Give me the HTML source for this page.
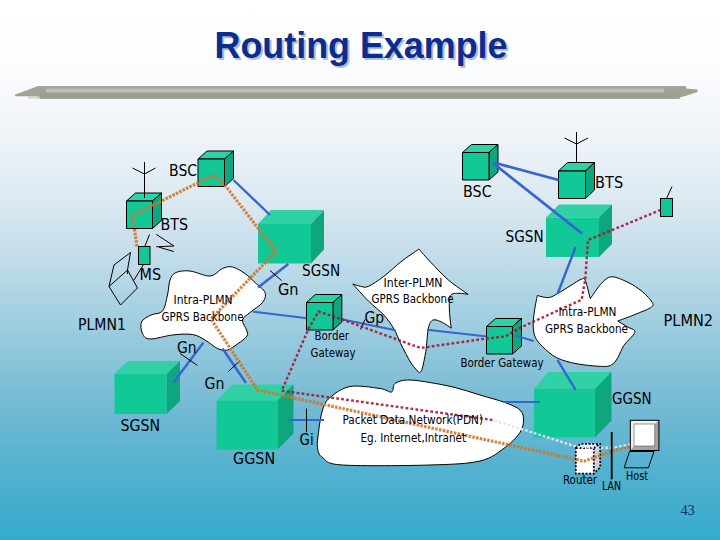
<!DOCTYPE html>
<html><head><meta charset="utf-8"><title>Routing Example</title>
<style>
html,body{margin:0;padding:0;background:#fff;}
body{width:720px;height:540px;overflow:hidden;}
svg{display:block;}
</style></head><body>
<svg width="720" height="540" viewBox="0 0 720 540">
<defs>
<linearGradient id="bg" x1="0" y1="0" x2="0" y2="1">
<stop offset="0.0000" stop-color="#ffffff"/>
<stop offset="0.1111" stop-color="#fcfdfe"/>
<stop offset="0.2407" stop-color="#f0f5f9"/>
<stop offset="0.3704" stop-color="#dbe9f1"/>
<stop offset="0.4630" stop-color="#c6deeb"/>
<stop offset="0.5556" stop-color="#abd3e3"/>
<stop offset="0.6481" stop-color="#91c7dc"/>
<stop offset="0.7407" stop-color="#77bbd4"/>
<stop offset="0.8333" stop-color="#5cb4d0"/>
<stop offset="0.9259" stop-color="#46aecd"/>
<stop offset="1.0000" stop-color="#35aaca"/>
</linearGradient>
<linearGradient id="bar" x1="0" y1="0" x2="0" y2="1">
<stop offset="0" stop-color="#b4b4a6"/>
<stop offset="0.25" stop-color="#a2a294"/>
<stop offset="0.45" stop-color="#c2c2b6"/>
<stop offset="0.6" stop-color="#a4a496"/>
<stop offset="1" stop-color="#9a9a8c"/>
</linearGradient>
</defs>
<rect width="720" height="540" fill="url(#bg)"/>

<text x="361" y="57.5" text-anchor="middle" font-family="'Liberation Sans',sans-serif" font-weight="bold" font-size="36" textLength="293" lengthAdjust="spacingAndGlyphs" fill="#b0bcda" transform="translate(2,2)">Routing Example</text>
<text x="361" y="57.5" text-anchor="middle" font-family="'Liberation Sans',sans-serif" font-weight="bold" font-size="36" textLength="293" lengthAdjust="spacingAndGlyphs" fill="#0b2d8d">Routing Example</text>
<polygon points="15,94.8 38,86 686,86 686,88.6 697.5,89.6 697.5,92 690,94.5 676,98.7 40,98.7 37,96.2 15,96.2" fill="#a2a295"/>
<rect x="40" y="93" width="640" height="5.7" fill="#9e9e90"/>
<rect x="46" y="88.7" width="618" height="3.6" fill="#bfbfb3"/>
<rect x="28" y="96.2" width="12" height="2.5" fill="#c9c9c2" opacity="0.7"/>
<path d="M170,280 C171.4,276.2 172.7,274.0 176,272.5 C179.3,271.0 184.3,270.4 190,271 C195.7,271.6 204.6,276.4 210,276 C215.4,275.6 218.8,270.0 222.5,268.5 C226.2,267.0 228.8,266.2 232.5,267 C236.2,267.8 241.2,270.9 245,273.5 C248.8,276.1 251.7,279.3 255,282.5 C258.3,285.7 263.8,289.2 265,292.5 C266.2,295.8 265.0,299.2 262.5,302.5 C260.0,305.8 253.3,309.6 250,312.5 C246.7,315.4 243.1,317.1 242.5,320 C241.9,322.9 245.8,327.3 246.5,330 C247.2,332.7 248.5,333.7 247,336 C245.5,338.3 240.8,341.7 237.5,344 C234.2,346.3 230.8,349.2 227.5,350 C224.2,350.8 221.2,350.2 217.5,348.5 C213.8,346.8 209.2,342.3 205,340 C200.8,337.7 197.9,335.3 192.5,334.5 C187.1,333.7 179.6,334.2 172.5,335 C165.4,335.8 155.0,339.2 150,339 C145.0,338.8 143.9,336.3 142.5,333.5 C141.1,330.7 140.1,325.1 141.5,322 C142.9,318.9 147.5,316.8 151,315 C154.5,313.2 159.8,314.3 162.5,311 C165.2,307.7 166.2,300.2 167.5,295 C168.8,289.8 168.6,283.8 170,280Z" fill="#fff" stroke="#000" stroke-width="1" stroke-linejoin="round"/>
<path d="M352.8,284 C354.1,284.4 357.9,285.9 360.5,286.3 C363.1,286.7 364.4,288.1 368.3,286.4 C372.2,284.7 378.5,280.4 383.9,276.3 C389.3,272.2 394.9,266.6 400.7,262 C406.5,257.4 415.8,251.2 418.8,249 C420.8,251.2 425.5,256.8 430.5,262 C435.5,267.2 442.3,274.8 448.6,280.2 C454.9,285.6 464.9,292.0 468.1,294.4 C466.6,294.2 461.9,293.1 459,293.3 C456.1,293.5 452.1,292.7 450.5,295.5 C448.9,298.3 449.3,304.6 449.4,310 C449.5,315.4 450.9,325.1 451.2,328.1 C449.7,327.2 445.2,323.8 442.2,322.4 C439.2,321.0 435.4,319.1 433.1,320 C430.8,320.9 429.6,322.9 428.4,328.1 C427.2,333.3 426.9,344.5 425.8,351.4 C424.7,358.3 423.0,366.0 421.9,369.5 C420.8,373.0 419.5,372.1 419,372.6 C417.7,371.0 414.2,367.9 411.1,363.1 C408.1,358.3 403.5,349.2 400.7,343.6 C397.9,338.0 397.0,334.1 394.2,329.4 C391.4,324.6 388.2,319.9 383.9,315.1 C379.6,310.4 373.5,306.1 368.3,300.9 C363.1,295.7 355.4,286.8 352.8,284Z" fill="#fff" stroke="#000" stroke-width="1" stroke-linejoin="round"/>
<path d="M590.3,298.6 C592.2,296.1 598.0,286.9 601.5,283.3 C605.0,279.7 607.2,277.0 611.6,276.8 C616.0,276.6 622.8,279.9 627.9,282.3 C633.0,284.8 638.1,288.1 642.2,291.5 C646.3,294.9 651.0,300.0 652.4,302.7 C653.8,305.4 653.4,305.8 650.3,307.8 C647.2,309.8 639.4,312.7 634,314.9 C628.6,317.1 620.5,320.0 617.8,321 C619.5,322.0 625.1,325.5 627.9,327.1 C630.7,328.7 633.6,329.1 634.5,330.5 C635.4,331.9 634.8,332.8 633,335.3 C631.2,337.8 626.4,341.7 623.9,345.4 C621.4,349.1 619.8,354.5 617.8,357.7 C615.8,360.9 614.3,363.4 611.6,364.8 C608.9,366.2 607.3,366.6 601.5,366.4 C595.7,366.2 584.5,365.2 577,363.8 C569.5,362.4 562.5,360.6 556.7,357.7 C550.9,354.8 546.0,349.9 542.4,346.5 C538.8,343.1 536.8,340.7 535.3,337.3 C533.8,333.9 533.4,330.4 533.2,326.1 C533.0,321.9 533.6,316.9 534.3,311.8 C535.0,306.7 536.8,298.2 537.3,295.5 C539.2,295.9 545.1,297.9 548.5,297.6 C551.9,297.3 554.0,295.5 557.7,293.5 C561.4,291.5 567.0,287.8 570.9,285.4 C574.8,283.0 578.7,280.1 581.1,279.3 C583.5,278.5 583.7,277.1 585.2,280.3 C586.7,283.5 589.4,295.6 590.3,298.6Z" fill="#fff" stroke="#000" stroke-width="1" stroke-linejoin="round"/>
<path d="M330,397.5 C334.6,393.6 341.7,388.0 350,386.5 C358.3,385.0 373.1,387.6 380,388.5 C386.9,389.4 389.0,392.8 391.5,392 C394.0,391.2 392.3,385.5 395,383.5 C397.7,381.5 401.7,380.2 407.5,380 C413.3,379.8 422.1,381.2 430,382.5 C437.9,383.8 446.7,385.4 455,387.5 C463.3,389.6 471.7,392.5 480,395 C488.3,397.5 498.3,400.0 505,402.5 C511.7,405.0 516.9,407.1 520,410 C523.1,412.9 523.5,416.2 523.5,420 C523.5,423.8 523.1,427.9 520,432.5 C516.9,437.1 511.7,442.8 505,447.5 C498.3,452.2 492.5,458.1 480,461 C467.5,463.9 452.9,464.3 430,465 C407.1,465.7 360.4,466.2 342.5,465 C324.6,463.8 326.7,460.4 322.5,457.5 C318.3,454.6 318.2,451.7 317.5,447.5 C316.8,443.3 317.7,438.8 318.5,432.5 C319.3,426.2 320.6,415.8 322.5,410 C324.4,404.2 325.4,401.4 330,397.5Z" fill="#fff" stroke="#000" stroke-width="1" stroke-linejoin="round"/>
<g stroke="#3664d2" stroke-width="2" fill="none">
<path d="M253,311.7L307,318.2 M333,317.6L395.6,330.2 M427,329.8L487,336.6"/>
</g>
<g stroke="#000" stroke-width="1" stroke-linejoin="round"><polygon points="198,159 207,151 233.5,151 224.5,159" fill="#2fd1a5"/><polygon points="224.5,159 233.5,151 233.5,178.5 224.5,186.5" fill="#10a67d"/><rect x="198" y="159" width="26.5" height="27.5" fill="#12c897"/></g>
<g stroke="#000" stroke-width="1" stroke-linejoin="round"><polygon points="126.5,201 135.5,193 161.5,193 152.5,201" fill="#2fd1a5"/><polygon points="152.5,201 161.5,193 161.5,220.5 152.5,228.5" fill="#10a67d"/><rect x="126.5" y="201" width="26.0" height="27.5" fill="#12c897"/></g>
<g><polygon points="258,224 271,210 324,210 311,224" fill="#2fd1a5"/><polygon points="311,224 324,210 324,249.5 311,263.5" fill="#10a67d"/><rect x="258" y="224" width="53" height="39.5" fill="#12c897"/></g>
<g stroke="#000" stroke-width="1" stroke-linejoin="round"><polygon points="306.5,302.5 315.3,294.5 341.8,294.5 333,302.5" fill="#2fd1a5"/><polygon points="333,302.5 341.8,294.5 341.8,322 333,330" fill="#10a67d"/><rect x="306.5" y="302.5" width="26.5" height="27.5" fill="#12c897"/></g>
<g><polygon points="114.5,374 128.0,361 180.0,361 166.5,374" fill="#2fd1a5"/><polygon points="166.5,374 180.0,361 180.0,401 166.5,414" fill="#10a67d"/><rect x="114.5" y="374" width="52.0" height="40" fill="#12c897"/></g>
<g><polygon points="216.5,400.5 232.5,384.5 293.5,384.5 277.5,400.5" fill="#2fd1a5"/><polygon points="277.5,400.5 293.5,384.5 293.5,433.5 277.5,449.5" fill="#10a67d"/><rect x="216.5" y="400.5" width="61.0" height="49.0" fill="#12c897"/></g>
<g stroke="#000" stroke-width="1" stroke-linejoin="round"><polygon points="462.5,152.5 471.5,144.5 498,144.5 489,152.5" fill="#2fd1a5"/><polygon points="489,152.5 498,144.5 498,172 489,180" fill="#10a67d"/><rect x="462.5" y="152.5" width="26.5" height="27.5" fill="#12c897"/></g>
<g stroke="#000" stroke-width="1" stroke-linejoin="round"><polygon points="558.5,171 567.5,162.5 594.5,162.5 585.5,171" fill="#2fd1a5"/><polygon points="585.5,171 594.5,162.5 594.5,190.0 585.5,198.5" fill="#10a67d"/><rect x="558.5" y="171" width="27.0" height="27.5" fill="#12c897"/></g>
<g><polygon points="546,217.5 559,204.5 612,204.5 599,217.5" fill="#2fd1a5"/><polygon points="599,217.5 612,204.5 612,244 599,257" fill="#10a67d"/><rect x="546" y="217.5" width="53" height="39.5" fill="#12c897"/></g>
<g stroke="#000" stroke-width="1" stroke-linejoin="round"><polygon points="486.5,326.5 495.5,318.5 521.5,318.5 512.5,326.5" fill="#2fd1a5"/><polygon points="512.5,326.5 521.5,318.5 521.5,346 512.5,354" fill="#10a67d"/><rect x="486.5" y="326.5" width="26.0" height="27.5" fill="#12c897"/></g>
<g><polygon points="534,388.8 548.3,372.0 611.5,372.0 595,388.8" fill="#2fd1a5"/><polygon points="595,388.8 611.5,372.0 611.5,420.59999999999997 595,437.4" fill="#10a67d"/><rect x="534" y="388.8" width="61" height="48.599999999999966" fill="#12c897"/></g>
<rect x="138.5" y="246.5" width="11.5" height="18" fill="#12c897" stroke="#000" stroke-width="1"/>
<rect x="660.5" y="198.5" width="12" height="18" fill="#12c897" stroke="#000" stroke-width="1"/>
<g stroke="#3664d2" stroke-width="2.4" fill="none" stroke-linecap="butt">
<path d="M233.5,180L270,215"/>
<path d="M288.3,264L258,287.5"/>
<path d="M515.4,335.4L533.5,341" stroke-width="2"/>
<path d="M203.5,342.5L173.5,382.5"/>
<path d="M222.5,348.5L246,383"/>
<path d="M288.5,420H324" stroke-width="2.2"/>
<path d="M493.5,162.5L558.5,180" stroke-width="2.8"/>
<path d="M493.5,163.5L582,233.5" stroke-width="2.8"/>
<path d="M575.6,247L557.5,294"/>
<path d="M557.5,360L575.5,389.8"/>
<path d="M504,402H540" stroke-width="2.2"/>
</g>
<g stroke="#000" stroke-width="1" fill="none">
<path d="M144.5,162V198 M132.5,168L144.5,174L155.5,168"/>
<path d="M576.5,132V162.5 M564.5,138L576.5,144L588,138"/>
<path d="M666.5,198.5L672,186.5"/>
<path d="M149.5,234.5L145,246"/>
<path d="M156.3,234.4L174,246L156.3,246.8 M159,247.2L173.7,251.5"/>
<path d="M143.5,264.5L134,280"/>
<path d="M130.5,252.5L114,265L109,286.5L127.5,270Z M109,286.5L120.5,305L137.5,288L127.5,270 M127.5,270V274"/>
<path d="M270,270.5L281.5,280.5"/>
<path d="M365,319.5L360.5,329.5"/>
<path d="M180,353.5L197.5,365.5"/>
<path d="M228.5,371.5L240,360.5"/>
<path d="M306.5,408.5V432"/>
</g>
<g stroke="#a3152e" stroke-opacity="0.88" stroke-width="2.4" fill="none" stroke-dasharray="2.8,2.2">
<path d="M492.5,420L281.7,390.8L308.7,328.5L318.5,311.5L342,319.4L380,333.3L420.6,348L486.3,338.5L505,336.5L521.7,327L581.7,299.7L585.3,279L588,240L660.5,210"/>
</g>
<g stroke="#dfe3fa" stroke-width="2.4" fill="none" stroke-dasharray="2.6,2">
<path d="M494.5,420.5L532.5,432.5L577.5,447L599.5,447.8L612,447.8L634,443.8"/>
</g>
<g><polygon points="575.8,448 580.5,443.8 600.2,443.8 600.2,467.4 593.8,473.6 575.8,473.6" fill="#fff"/><polygon points="593.8,448 600.2,443.8 600.2,467.4 593.8,473.6" fill="#cfd0dc"/><polygon points="575.8,448 580.5,443.8 600.2,443.8 593.8,448" fill="#eceefa"/><path d="M575.8,448L580.5,443.8H600.2V467.4L593.8,473.6H575.8Z M575.8,448H593.8V473.6 M593.8,448L600.2,443.8" fill="none" stroke="#000" stroke-width="1.8" stroke-dasharray="2,1.6"/></g>
<path d="M577.5,447L599.5,447.8" stroke="#d8dcf6" stroke-width="2.2" fill="none" stroke-dasharray="2.6,2"/>
<g stroke="#d0762a" stroke-opacity="0.9" stroke-width="3.2" fill="none" stroke-dasharray="2.5,1.3">
<path d="M137,246.5L132.5,215.5L213.5,175L224,184L276,251.3L211,319L257.5,390L584,461.2L612,451.2L634,445.5"/>
</g>
<path d="M611.7,432V479.3" stroke="#000" stroke-width="1.8"/>
<rect x="630.3" y="420.3" width="28.6" height="30.2" fill="#a4a4a4"/>
<polygon points="630.3,420.3 658.9,420.3 654.8,424 634,424 634,446 630.3,450.5" fill="#efefef"/>
<rect x="634" y="424" width="20.8" height="22" fill="#fff" stroke="#555" stroke-width="0.6"/>
<rect x="630.3" y="420.3" width="28.6" height="30.2" fill="none" stroke="#000" stroke-width="1"/>
<polygon points="629.5,451.5 654,451.5 648.4,467.8 624.2,467.8" fill="none" stroke="#000" stroke-width="1"/>
<text x="169.1" y="176.0" font-size="15.5" textLength="28.0" lengthAdjust="spacingAndGlyphs" fill="#000" font-family="'DejaVu Sans Condensed','Liberation Sans',sans-serif" >BSC</text>
<text x="160.6" y="229.5" font-size="15.5" textLength="27.5" lengthAdjust="spacingAndGlyphs" fill="#000" font-family="'DejaVu Sans Condensed','Liberation Sans',sans-serif" >BTS</text>
<text x="139.6" y="280.0" font-size="15.5" textLength="21.5" lengthAdjust="spacingAndGlyphs" fill="#000" font-family="'DejaVu Sans Condensed','Liberation Sans',sans-serif" >MS</text>
<text x="78.1" y="329.5" font-size="15.5" textLength="47.80000000000001" lengthAdjust="spacingAndGlyphs" fill="#000" font-family="'DejaVu Sans Condensed','Liberation Sans',sans-serif" >PLMN1</text>
<text x="302.1" y="276.0" font-size="15.5" textLength="38.0" lengthAdjust="spacingAndGlyphs" fill="#000" font-family="'DejaVu Sans Condensed','Liberation Sans',sans-serif" >SGSN</text>
<text x="278.1" y="295.0" font-size="15.5" textLength="20.5" lengthAdjust="spacingAndGlyphs" fill="#000" font-family="'DejaVu Sans Condensed','Liberation Sans',sans-serif" >Gn</text>
<text x="177.1" y="353.0" font-size="15.5" textLength="19.5" lengthAdjust="spacingAndGlyphs" fill="#000" font-family="'DejaVu Sans Condensed','Liberation Sans',sans-serif" >Gn</text>
<text x="204.6" y="388.5" font-size="15.5" textLength="20.0" lengthAdjust="spacingAndGlyphs" fill="#000" font-family="'DejaVu Sans Condensed','Liberation Sans',sans-serif" >Gn</text>
<text x="364.6" y="322.5" font-size="15.5" textLength="19.5" lengthAdjust="spacingAndGlyphs" fill="#000" font-family="'DejaVu Sans Condensed','Liberation Sans',sans-serif" >Gp</text>
<text x="299.6" y="445.0" font-size="15.5" textLength="14.0" lengthAdjust="spacingAndGlyphs" fill="#000" font-family="'DejaVu Sans Condensed','Liberation Sans',sans-serif" >Gi</text>
<text x="120.4" y="431" font-size="15.5" textLength="39.599999999999994" lengthAdjust="spacingAndGlyphs" fill="#000" font-family="'DejaVu Sans Condensed','Liberation Sans',sans-serif" >SGSN</text>
<text x="233.1" y="463.5" font-size="15.5" textLength="42.00000000000003" lengthAdjust="spacingAndGlyphs" fill="#000" font-family="'DejaVu Sans Condensed','Liberation Sans',sans-serif" >GGSN</text>
<text x="463.1" y="196.5" font-size="15.5" textLength="28.5" lengthAdjust="spacingAndGlyphs" fill="#000" font-family="'DejaVu Sans Condensed','Liberation Sans',sans-serif" >BSC</text>
<text x="595.1" y="188.0" font-size="15.5" textLength="28.0" lengthAdjust="spacingAndGlyphs" fill="#000" font-family="'DejaVu Sans Condensed','Liberation Sans',sans-serif" >BTS</text>
<text x="505.6" y="242.0" font-size="15.5" textLength="38.0" lengthAdjust="spacingAndGlyphs" fill="#000" font-family="'DejaVu Sans Condensed','Liberation Sans',sans-serif" >SGSN</text>
<text x="663.6" y="325.5" font-size="15.5" textLength="49.5" lengthAdjust="spacingAndGlyphs" fill="#000" font-family="'DejaVu Sans Condensed','Liberation Sans',sans-serif" >PLMN2</text>
<text x="612.1" y="404.0" font-size="15.5" textLength="39.5" lengthAdjust="spacingAndGlyphs" fill="#000" font-family="'DejaVu Sans Condensed','Liberation Sans',sans-serif" >GGSN</text>
<text x="173.5" y="304" font-size="11.7" textLength="59.0" lengthAdjust="spacingAndGlyphs" fill="#000" font-family="'DejaVu Sans Condensed','Liberation Sans',sans-serif" >Intra-PLMN</text>
<text x="161.5" y="320.5" font-size="11.7" textLength="82.0" lengthAdjust="spacingAndGlyphs" fill="#000" font-family="'DejaVu Sans Condensed','Liberation Sans',sans-serif" >GPRS Backbone</text>
<text x="383.5" y="286.5" font-size="11.7" textLength="59.0" lengthAdjust="spacingAndGlyphs" fill="#000" font-family="'DejaVu Sans Condensed','Liberation Sans',sans-serif" >Inter-PLMN</text>
<text x="371.5" y="302.5" font-size="11.7" textLength="82.0" lengthAdjust="spacingAndGlyphs" fill="#000" font-family="'DejaVu Sans Condensed','Liberation Sans',sans-serif" >GPRS Backbone</text>
<text x="558.5" y="316" font-size="11.7" textLength="58.0" lengthAdjust="spacingAndGlyphs" fill="#000" font-family="'DejaVu Sans Condensed','Liberation Sans',sans-serif" >Intra-PLMN</text>
<text x="545" y="332.5" font-size="11.7" textLength="83" lengthAdjust="spacingAndGlyphs" fill="#000" font-family="'DejaVu Sans Condensed','Liberation Sans',sans-serif" >GPRS Backbone</text>
<text x="314.5" y="340" font-size="11.7" textLength="34.5" lengthAdjust="spacingAndGlyphs" fill="#000" font-family="'DejaVu Sans Condensed','Liberation Sans',sans-serif" >Border</text>
<text x="310.5" y="357" font-size="11.7" textLength="45.0" lengthAdjust="spacingAndGlyphs" fill="#000" font-family="'DejaVu Sans Condensed','Liberation Sans',sans-serif" >Gateway</text>
<text x="460.5" y="367" font-size="11.7" textLength="83.0" lengthAdjust="spacingAndGlyphs" fill="#000" font-family="'DejaVu Sans Condensed','Liberation Sans',sans-serif" >Border Gateway</text>
<text x="342.5" y="424" font-size="11.7" textLength="140.5" lengthAdjust="spacingAndGlyphs" fill="#000" font-family="'DejaVu Sans Condensed','Liberation Sans',sans-serif" >Packet Data Network(PDN)</text>
<text x="360.5" y="441.5" font-size="11.7" textLength="105.5" lengthAdjust="spacingAndGlyphs" fill="#000" font-family="'DejaVu Sans Condensed','Liberation Sans',sans-serif" >Eg. Internet,Intranet</text>
<text x="563" y="484" font-size="11.7" textLength="34" lengthAdjust="spacingAndGlyphs" fill="#000" font-family="'DejaVu Sans Condensed','Liberation Sans',sans-serif" >Router</text>
<text x="602" y="490" font-size="11.7" textLength="19" lengthAdjust="spacingAndGlyphs" fill="#000" font-family="'DejaVu Sans Condensed','Liberation Sans',sans-serif" >LAN</text>
<text x="626" y="480" font-size="11.7" textLength="22" lengthAdjust="spacingAndGlyphs" fill="#000" font-family="'DejaVu Sans Condensed','Liberation Sans',sans-serif" >Host</text>
<text x="680.4" y="515" font-size="14" textLength="14.399999999999977" lengthAdjust="spacingAndGlyphs" fill="#132c7c" font-family="'Liberation Serif',serif" >43</text>
</svg></body></html>
